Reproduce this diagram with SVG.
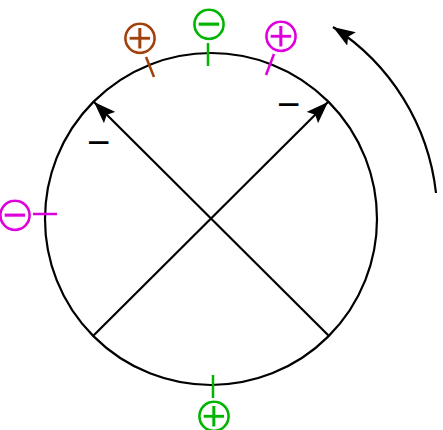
<svg xmlns="http://www.w3.org/2000/svg" width="443" height="430" viewBox="0 0 443 430">
<defs>
<marker id="arr" viewBox="0 0 22 16" refX="22" refY="8" markerWidth="22" markerHeight="16" orient="auto" markerUnits="userSpaceOnUse">
<path d="M0,0 L22,8 L0,16 L4,8 z" fill="#000"/>
</marker>
<style>
.ln{fill:none;stroke:#000;stroke-width:2.2}
.sym{font-family:"DejaVu Sans",sans-serif;font-size:50px;text-anchor:middle;dominant-baseline:central;stroke:#fff;stroke-width:1}
.tick{stroke-width:2.5}
.brown{fill:#a0410d;stroke:#a0410d}
.green{fill:#00b400;stroke:#00b400}
.mag{fill:#dd00dd;stroke:#dd00dd}
.tb{fill:#a0410d}
.tg{fill:#00b400}
.tm{fill:#dd00dd}
.minus{font-family:"Liberation Sans",sans-serif;font-size:40px;fill:#000}
</style>
</defs>
<g id="circle"><circle cx="211" cy="219" r="166" class="ln"/></g>
<g id="connectors">
<path d="M329,336 L94,102" class="ln" marker-end="url(#arr)"/>
<path d="M93,336 L328,102" class="ln" marker-end="url(#arr)"/>
<path d="M436,193 A227,227 0 0 0 333,27" class="ln" marker-end="url(#arr)"/>
</g>
<g id="minus-left"><text x="87" y="155.5" class="minus">−</text></g>
<g id="minus-right"><text x="277" y="117.5" class="minus">−</text></g>
<g id="brown-plus">
<line x1="146" y1="57" x2="154" y2="77" class="tick brown"/>
<text x="140" y="37" class="sym tb">⊕</text>
</g>
<g id="green-minus-top">
<line x1="208" y1="43" x2="208" y2="66" class="tick green"/>
<text x="209" y="23" class="sym tg">⊖</text>
</g>
<g id="magenta-plus">
<line x1="274" y1="54" x2="266" y2="75" class="tick mag"/>
<text x="281" y="35" class="sym tm">⊕</text>
</g>
<g id="magenta-minus-left">
<line x1="33" y1="214" x2="57" y2="214" class="tick mag"/>
<text x="15" y="214" class="sym tm">⊖</text>
</g>
<g id="green-plus-bottom">
<line x1="213" y1="375" x2="213" y2="398" class="tick green"/>
<text x="214" y="415" class="sym tg">⊕</text>
</g>
</svg>
